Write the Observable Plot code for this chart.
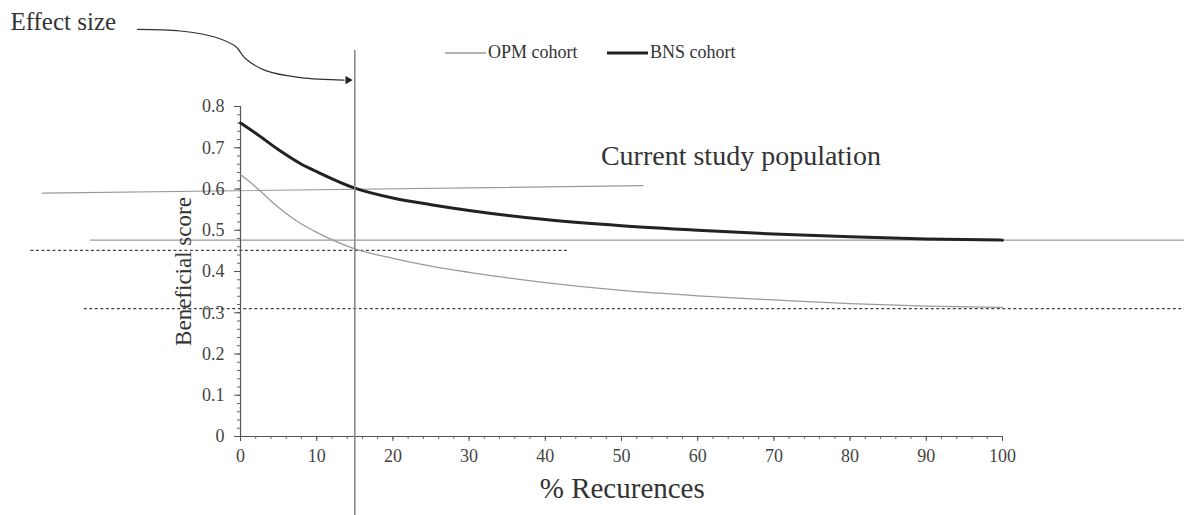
<!DOCTYPE html>
<html>
<head>
<meta charset="utf-8">
<script src="https://cdn.jsdelivr.net/npm/d3@7"></script>
<script src="https://cdn.jsdelivr.net/npm/@observablehq/plot@0.6"></script>
<style>
  html, body { margin: 0; padding: 0; background: #fff; }
  #wrap { position: relative; width: 1184px; height: 515px; font-family: 'Liberation Serif', 'DejaVu Serif', serif; }
  #wrap svg text { font-family: 'Liberation Serif', 'DejaVu Serif', serif; }
  .leg { position: absolute; top: 42px; font-size: 18px; color: #333; display: flex; align-items: center; white-space: nowrap; }
  .leg svg { margin-right: 2px; }
</style>
</head>
<body>
<div id="wrap">
  <div id="chart"></div>
  <div id="legend"></div>
</div>
<script>
// Data
const recurrences = [0, 2, 5, 8, 10, 15, 20, 25, 30, 40, 50, 60, 70, 80, 90, 100];
const bnsScore   = [0.760, 0.735, 0.695, 0.660, 0.642, 0.602, 0.578, 0.562, 0.548, 0.526, 0.511, 0.500, 0.491, 0.484, 0.479, 0.476];
const opmScore   = [0.635, 0.605, 0.555, 0.515, 0.495, 0.455, 0.432, 0.413, 0.398, 0.373, 0.354, 0.341, 0.331, 0.322, 0.316, 0.313];

const xTicks = [0, 10, 20, 30, 40, 50, 60, 70, 80, 90, 100];
const yTicks = [0, 0.1, 0.2, 0.3, 0.4, 0.5, 0.6, 0.7, 0.8];
const xMinor = d3.range(0, 101, 2);
const yMinor = d3.range(0, 0.801, 0.02);

// Reference lines (x extent, y value)
const solidRefs = [
  {x1: -26, x2: 52.8, y1: 0.590, y2: 0.608},
  {x1: -19.7, x2: 124, y1: 0.476, y2: 0.476}
];
const dashedRefs = [
  {x1: -27.5, x2: 43, y: 0.451},
  {x1: -20.5, x2: 124, y: 0.310}
];
const effectX = 15;

// Annotation arrow path for "Effect size"
const arrowX = [-13.5, -7.9, -3.3, -0.6, 0.6, 3.3, 7.9, 13.6];
const arrowY = [0.987, 0.983, 0.968, 0.945, 0.917, 0.887, 0.870, 0.864];
const arrowHead = [{x: 14.1, y: 0.864}];

const bns = recurrences.map((x, i) => ({x, y: bnsScore[i]}));
const opm = recurrences.map((x, i) => ({x, y: opmScore[i]}));
const arrow = arrowX.map((x, i) => ({x, y: arrowY[i]}));
const solidSegs = solidRefs.flatMap((d, i) => [{x: d.x1, y: d.y1, k: i}, {x: d.x2, y: d.y2, k: i}]);

const serif = "'Liberation Serif', 'DejaVu Serif', serif";

const chart = Plot.plot({
  width: 1184,
  height: 515,
  marginLeft: 240,
  marginRight: 182,
  marginTop: 106,
  marginBottom: 79,
  style: {fontFamily: serif, background: "#fff", color: "#333"},
  x: {domain: [0, 100], axis: null},
  y: {domain: [0, 0.8], axis: null},
  marks: [
    // reference lines
    Plot.line(solidSegs, {x: "x", y: "y", z: "k", stroke: "#9a9a9a", strokeWidth: 1.2}),
    Plot.ruleY(dashedRefs, {x1: "x1", x2: "x2", y: "y", stroke: "#444", strokeWidth: 1.3, strokeDasharray: "3,2.5"}),
    // axes lines
    Plot.ruleX([0], {y1: 0, y2: 0.8, stroke: "#555", strokeWidth: 1.2}),
    Plot.ruleY([0], {x1: 0, x2: 100, stroke: "#555", strokeWidth: 1.2}),
    // minor ticks
    Plot.axisY(yMinor, {text: null, label: null, tickSize: 3, stroke: "#666"}),
    Plot.axisX(xMinor, {text: null, label: null, tickSize: 3, stroke: "#666"}),
    // major ticks
    Plot.axisY(yTicks, {label: null, tickSize: 6, tickPadding: 10, fontSize: 18, fontFamily: serif, fill: "#444", stroke: "#555",
      tickFormat: d => d === 0 ? "0" : d.toFixed(1)}),
    Plot.axisX(xTicks, {label: null, tickSize: 5, tickPadding: 8, fontSize: 18, fontFamily: serif, fill: "#444", stroke: "#555", tickFormat: d => String(d)}),
    // curves
    Plot.line(opm, {x: "x", y: "y", stroke: "#9a9a9a", strokeWidth: 1.3, curve: "monotone-x"}),
    Plot.line(bns, {x: "x", y: "y", stroke: "#222", strokeWidth: 3, curve: "monotone-x"}),
    // effect size vertical rule
    Plot.ruleX([effectX], {y1: 0.936, y2: -0.2, stroke: "#8a8a8a", strokeWidth: 1.6}),
    // annotation
    Plot.line(arrow, {x: "x", y: "y", stroke: "#333", strokeWidth: 1.2, curve: "catmull-rom"}),
    Plot.dot(arrowHead, {x: "x", y: "y", symbol: "triangle2", rotate: 90, r: 4, fill: "#222", stroke: null}),
    Plot.text(["Effect size"], {x: -30.2, y: 1.004, text: d => d, textAnchor: "start", fontSize: 25, fontFamily: serif, fill: "#333"}),
    Plot.text(["Current study population"], {x: 47.3, y: 0.681, text: d => d, textAnchor: "start", fontSize: 28, fontFamily: serif, fill: "#333"}),
    Plot.text(["Beneficial score"], {x: -7.4, y: 0.40, text: d => d, rotate: -90, fontSize: 23, fontFamily: serif, fill: "#333"}),
    Plot.text(["% Recurences"], {x: 50.1, y: -0.127, text: d => d, fontSize: 29, fontFamily: serif, fill: "#333"})
  ]
});
document.getElementById("chart").appendChild(chart);

// Legend
const legendItems = [
  {label: "OPM cohort", color: "#9a9a9a", width: 1.3, left: 445},
  {label: "BNS cohort", color: "#222", width: 3, left: 607}
];
const legend = document.getElementById("legend");
for (const it of legendItems) {
  const span = document.createElement("div");
  span.className = "leg";
  span.style.left = it.left + "px";
  span.innerHTML = `<svg width="41" height="10"><line x1="0" x2="41" y1="5" y2="5" stroke="${it.color}" stroke-width="${it.width}"/></svg>${it.label}`;
  legend.appendChild(span);
}
</script>
</body>
</html>
